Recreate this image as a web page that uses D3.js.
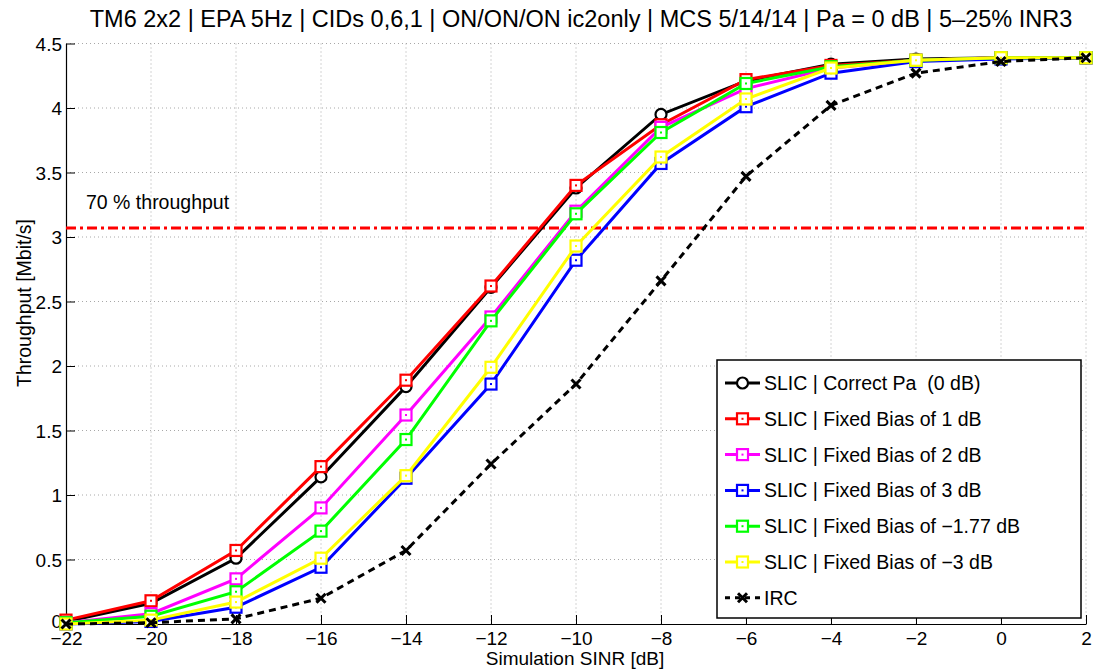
<!DOCTYPE html>
<html lang="en">
<head>
    <meta charset="utf-8">
    <script src="https://d3js.org/d3.v7.min.js"></script>
    <style>
        body { margin: 0; background: #fff; }
        text { font-family: "Liberation Sans", Arial, sans-serif; fill: #000; }
    </style>
</head>
<body>
    <script type="text/javascript">

        // chart values
        let sinr = [-22, -20, -18, -16, -14, -12, -10, -8, -6, -4, -2, 0, 2];
        let correctPa = [0.02, 0.16, 0.51, 1.14, 1.84, 2.61, 3.38, 3.95, 4.21, 4.34, 4.38, 4.39, 4.39];
        let bias1 = [0.03, 0.18, 0.57, 1.22, 1.89, 2.62, 3.40, 3.87, 4.22, 4.33, 4.37, 4.39, 4.39];
        let bias2 = [0.01, 0.08, 0.35, 0.90, 1.62, 2.38, 3.20, 3.85, 4.15, 4.31, 4.37, 4.39, 4.39];
        let bias3 = [0.00, 0.02, 0.13, 0.44, 1.13, 1.86, 2.82, 3.57, 4.01, 4.27, 4.36, 4.38, 4.39];
        let biasM177 = [0.01, 0.06, 0.25, 0.72, 1.43, 2.35, 3.18, 3.81, 4.19, 4.32, 4.37, 4.39, 4.39];
        let biasM3 = [0.00, 0.03, 0.17, 0.51, 1.15, 1.99, 2.93, 3.62, 4.07, 4.31, 4.37, 4.39, 4.39];
        let irc = [0.00, 0.01, 0.04, 0.20, 0.57, 1.24, 1.86, 2.66, 3.47, 4.02, 4.27, 4.36, 4.39];

        let seriesNames = ["SLIC | Correct Pa  (0 dB)", "SLIC | Fixed Bias of 1 dB", "SLIC | Fixed Bias of 2 dB",
                           "SLIC | Fixed Bias of 3 dB", "SLIC | Fixed Bias of \u22121.77 dB", "SLIC | Fixed Bias of \u22123 dB", "IRC"];
        let seriesValues = [correctPa, bias1, bias2, bias3, biasM177, biasM3, irc];
        let seriesColors = ["#000000", "#ff0000", "#ff00ff", "#0000ff", "#00ff00", "#ffff00", "#000000"];
        let seriesMarkers = ["circle", "square", "square", "square", "square", "square", "cross"];

        let xTicks = [-22, -20, -18, -16, -14, -12, -10, -8, -6, -4, -2, 0, 2];
        let yTicks = [0, 0.5, 1, 1.5, 2, 2.5, 3, 3.5, 4, 4.5];
        let target = 3.07; // 70 % throughput level

        let titleText = "TM6 2x2 | EPA 5Hz | CIDs 0,6,1 | ON/ON/ON ic2only | MCS 5/14/14 | Pa = 0 dB | 5\u201325% INR3";

        let w = 1096;
        let h = 670;
        let mLeft = 66, mRight = 1086, mTop = 43.5, mBottom = 624;

        let svg = d3.select("body").append("svg")
                    .attr("width", w)
                    .attr("height", h);

        let x = d3.scaleLinear().domain([-22, 2]).range([mLeft, mRight]);
        let y = d3.scaleLinear().domain([0, 4.5]).range([mBottom, mTop]);

        let fmt = function(d) {
            return d < 0 ? "\u2212" + Math.abs(d) : "" + d;
        };

        // grid
        let grid = svg.append("g");
        grid.selectAll("line.gx")
            .data(xTicks.slice(1))
            .join("line")
                .attr("class", "gx")
                .attr("x1", d => x(d)).attr("x2", d => x(d))
                .attr("y1", mTop).attr("y2", mBottom)
                .attr("stroke", "#a8a8a8")
                .attr("stroke-dasharray", "1,3");
        grid.selectAll("line.gy")
            .data(yTicks.slice(1))
            .join("line")
                .attr("class", "gy")
                .attr("x1", mLeft).attr("x2", mRight)
                .attr("y1", d => y(d)).attr("y2", d => y(d))
                .attr("stroke", "#a8a8a8")
                .attr("stroke-dasharray", "1,3");

        // axes
        let xAxis = svg.append("g")
            .attr("transform", "translate(0," + mBottom + ")")
            .call(d3.axisBottom(x).tickValues(xTicks).tickFormat(fmt).tickSizeInner(-9).tickSizeOuter(0).tickPadding(7));
        let yAxis = svg.append("g")
            .attr("transform", "translate(" + mLeft + ",0)")
            .call(d3.axisLeft(y).tickValues(yTicks).tickFormat(d => d).tickSizeInner(-9).tickSizeOuter(0).tickPadding(4));

        [xAxis, yAxis].forEach(function(a) {
            a.select(".domain").attr("stroke", "#000").attr("stroke-width", 1.2);
            a.selectAll(".tick line").attr("stroke", "#000");
            a.selectAll(".tick text")
                .style("font-family", "'Liberation Sans', Arial, sans-serif")
                .style("font-size", "19px")
                .attr("fill", "#000");
        });
        xAxis.selectAll(".tick text").attr("dy", "0.72em");
        yAxis.selectAll(".tick text").attr("dy", "0.36em");
        // lift the "0" label a little so it clears the first x label
        yAxis.selectAll(".tick text").filter(d => d === 0).attr("dy", "0.2em");

        // 70 % line
        svg.append("line")
            .attr("x1", mLeft).attr("x2", mRight)
            .attr("y1", y(target)).attr("y2", y(target))
            .attr("stroke", "#ff0000")
            .attr("stroke-width", 3)
            .attr("stroke-dasharray", "10,4,3,4");
        svg.append("text")
            .attr("x", 86).attr("y", 209)
            .style("font-size", "19.5px")
            .text("70 % throughput");

        // series
        let line = d3.line()
                    .x((d, i) => x(sinr[i]))
                    .y(d => y(d));

        let drawMarker = function(g, kind, color, cx, cy) {
            if (kind === "circle") {
                g.append("circle")
                    .attr("cx", cx).attr("cy", cy).attr("r", 5.5)
                    .attr("fill", "#fff").attr("stroke", color).attr("stroke-width", 2.2);
            } else if (kind === "square") {
                g.append("rect")
                    .attr("x", cx - 5.5).attr("y", cy - 5.5)
                    .attr("width", 11).attr("height", 11)
                    .attr("fill", "#fff").attr("stroke", color).attr("stroke-width", 2.2);
                g.append("rect")
                    .attr("x", cx - 1).attr("y", cy - 1)
                    .attr("width", 2).attr("height", 2)
                    .attr("fill", color);
            } else {
                g.append("path")
                    .attr("d", "M" + (cx - 4.5) + "," + (cy - 4.5) + "L" + (cx + 4.5) + "," + (cy + 4.5) +
                               "M" + (cx - 4.5) + "," + (cy + 4.5) + "L" + (cx + 4.5) + "," + (cy - 4.5))
                    .attr("stroke", color).attr("stroke-width", 3);
            }
        };

        seriesValues.forEach(function(vals, k) {
            let g = svg.append("g");
            g.append("path")
                .datum(vals)
                .attr("d", line)
                .attr("fill", "none")
                .attr("stroke", seriesColors[k])
                .attr("stroke-width", 3)
                .attr("stroke-dasharray", seriesMarkers[k] === "cross" ? "7,5" : null);
            vals.forEach(function(v, i) {
                drawMarker(g, seriesMarkers[k], seriesColors[k], x(sinr[i]), y(v));
            });
        });

        // legend
        let lg = svg.append("g");
        lg.append("rect")
            .attr("x", 717).attr("y", 360)
            .attr("width", 364).attr("height", 258)
            .attr("fill", "#fff")
            .attr("stroke", "#000")
            .attr("stroke-width", 1.5);
        seriesNames.forEach(function(name, k) {
            let cy = 383 + k * 35.8;
            lg.append("line")
                .attr("x1", 725).attr("x2", 760)
                .attr("y1", cy).attr("y2", cy)
                .attr("stroke", seriesColors[k])
                .attr("stroke-width", 3)
                .attr("stroke-dasharray", seriesMarkers[k] === "cross" ? "5,5" : null);
            drawMarker(lg, seriesMarkers[k], seriesColors[k], 742.5, cy);
            lg.append("text")
                .attr("x", 764).attr("y", cy)
                .attr("dy", "0.36em")
                .style("font-size", "19.5px")
                .style("white-space", "pre")
                .text(name);
        });

        // titles
        svg.append("text")
            .attr("x", 581).attr("y", 27)
            .attr("text-anchor", "middle")
            .style("font-size", "23.5px")
            .text(titleText);
        svg.append("text")
            .attr("x", 575).attr("y", 665)
            .attr("text-anchor", "middle")
            .style("font-size", "19px")
            .text("Simulation SINR [dB]");
        svg.append("text")
            .attr("transform", "translate(31,303) rotate(-90)")
            .attr("text-anchor", "middle")
            .style("font-size", "19.5px")
            .text("Throughput [Mbit/s]");

    </script>
</body>
</html>
